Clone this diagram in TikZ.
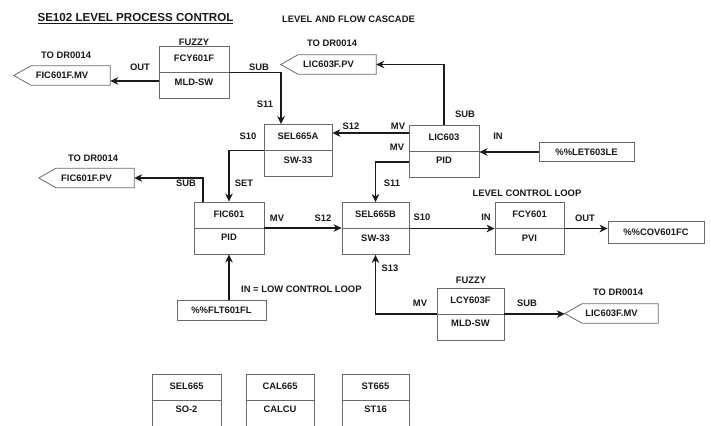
\documentclass[tikz,border=0pt]{standalone}
\usepackage{fontspec}
\setmainfont{Liberation Sans}
\usetikzlibrary{arrows.meta,calc}
\definecolor{ink}{HTML}{1A1A1A}
\definecolor{boxgray}{HTML}{6A6A6A}
\tikzset{
  blk/.style={draw=boxgray, line width=0.8pt, minimum height=52pt, inner sep=0pt},
  divl/.style={draw=boxgray, line width=0.8pt},
  txt/.style={font=\bfseries\fontsize{9.4}{10}\selectfont, text=ink, inner sep=0pt, text height=6.7pt, text depth=0pt},
  plainbox/.style={txt, draw=boxgray, line width=0.8pt},
  tagline/.style={draw=boxgray, line width=0.8pt},
  arr/.style={draw=ink, line width=1.5pt, -{Stealth[length=8pt,width=7.5pt,inset=2.5pt]}}
}
\newcommand\fblock[6]{%
  \node[blk, minimum width=#4pt] (#1) at (#2,#3) {};
  \draw[divl] (#1.west) -- (#1.east);
  \node[txt] (#1-t) at ([yshift=14pt]#1.center) {#5};
  \node[txt] (#1-b) at ([yshift=-9.5pt]#1.center) {#6};
}
\newcommand\outtag[5]{%
  \node[txt, minimum width=#4pt, minimum height=19pt] (#1) at (#2,#3) {#5};
  \draw[tagline] (#1.north east) -- (#1.south east) -- ([xshift=17pt]#1.south west) -- (#1.west) -- ([xshift=17pt]#1.north west) -- cycle;
}
\newcommand\putlab[4]{\node[txt] (#1) at (#2,#3) {#4};}
\begin{document}
\begin{tikzpicture}[x=1pt,y=-1pt]
\path[use as bounding box, fill=white] (0,0) rectangle (711,425);

% titles
\node[font=\bfseries\fontsize{11.6}{13}\selectfont, text=ink, inner sep=0pt] (title) at (135.5,19) {\underline{SE102 LEVEL PROCESS CONTROL}};
\putlab{cascade}{348.5}{19}{LEVEL AND FLOW CASCADE}

% function blocks
\fblock{fcyf}{194}{72.5}{70}{FCY601F}{MLD-SW}
\fblock{sela}{298}{150.5}{68}{SEL665A}{SW-33}
\fblock{lic}{444}{151}{70}{LIC603}{PID}
\fblock{fic}{229}{228}{70}{FIC601}{PID}
\fblock{selb}{375.5}{228.5}{67}{SEL665B}{SW-33}
\fblock{fcy}{529.5}{228.5}{69}{FCY601}{PVI}
\fblock{lcy}{470.5}{314}{67}{LCY603F}{MLD-SW}
\fblock{sel}{186.5}{400}{69}{SEL665}{SO-2}
\fblock{cal}{280}{400}{68}{CAL665}{CALCU}
\fblock{st}{375.5}{400}{67}{ST665}{ST16}

% output tags
\outtag{fmv}{62}{75.5}{96}{FIC601F.MV}
\outtag{lpv}{328.5}{64.5}{95}{LIC603F.PV}
\outtag{fpv}{86.5}{178}{95}{FIC601F.PV}
\outtag{lmv}{611.5}{313.5}{93}{LIC603F.MV}

% input / output boxes
\node[plainbox, minimum width=95pt, minimum height=19pt] (let) at (586.5,152) {\%\%LET603LE};
\node[plainbox, minimum width=96pt, minimum height=22pt] (cov) at (656,232) {\%\%COV601FC};
\node[plainbox, minimum width=89pt, minimum height=20pt] (flt) at (221.5,310) {\%\%FLT601FL};

% connectors
\coordinate (c1) at ([yshift=-8.5pt]fcyf.west);
\draw[arr] (c1) -- (c1 -| fmv.east);
\coordinate (c2) at ([xshift=-17pt]sela.north);
\draw[arr] (fcyf.east) -| (c2);
\draw[arr] (lic.north) |- (lpv.east);
\coordinate (c4) at ([yshift=18pt]lic.west);
\draw[arr] (c4) -- (c4 -| sela.east);
\coordinate (c5) at ([yshift=-11pt]lic.west);
\draw[arr] (c5) -| (selb.north);
\draw[arr] (let.west) -- (let.west -| lic.east);
\draw[arr] (sela.west) -| (fic.north);
\coordinate (c8) at ([xshift=-26pt]fic.north);
\draw[arr] (c8) |- (fpv.east);
\draw[arr] (flt.north -| fic.south) -- (fic.south);
\draw[arr] (fic.east) -- (fic.east -| selb.west);
\draw[arr] (selb.east) -- (selb.east -| fcy.west);
\draw[arr] (fcy.east) -- (fcy.east -| cov.west);
\draw[arr] (lcy.west) -| (selb.south);
\draw[arr] (lcy.east) -- (lcy.east -| lmv.west);

% labels
\putlab{fz1}{194}{42}{FUZZY}
\putlab{to1}{66}{55}{TO DR0014}
\putlab{out1}{140}{67}{OUT}
\putlab{sub1}{259}{67}{SUB}
\putlab{s11a}{265}{104}{S11}
\putlab{to2}{332}{43}{TO DR0014}
\putlab{sub2}{465}{114}{SUB}
\putlab{s12a}{351}{126}{S12}
\putlab{mv1}{398}{126}{MV}
\putlab{mv2}{397}{147}{MV}
\putlab{in1}{498}{136}{IN}
\putlab{s10a}{248}{136}{S10}
\putlab{to3}{93}{158}{TO DR0014}
\putlab{sub3}{186}{183}{SUB}
\putlab{set}{244}{183}{SET}
\putlab{s11b}{392}{183}{S11}
\putlab{lcl}{527}{193}{LEVEL CONTROL LOOP}
\putlab{mv3}{277}{218}{MV}
\putlab{s12b}{323}{218}{S12}
\putlab{s10b}{422}{217}{S10}
\putlab{in2}{486}{217}{IN}
\putlab{out2}{585}{218}{OUT}
\node[txt, anchor=west] (low) at (241,289) {IN = LOW CONTROL LOOP};
\putlab{s13}{390}{268}{S13}
\putlab{fz2}{471}{280}{FUZZY}
\putlab{mv4}{420}{303}{MV}
\putlab{sub4}{527}{303}{SUB}
\putlab{to4}{618}{292}{TO DR0014}
\end{tikzpicture}
\end{document}
